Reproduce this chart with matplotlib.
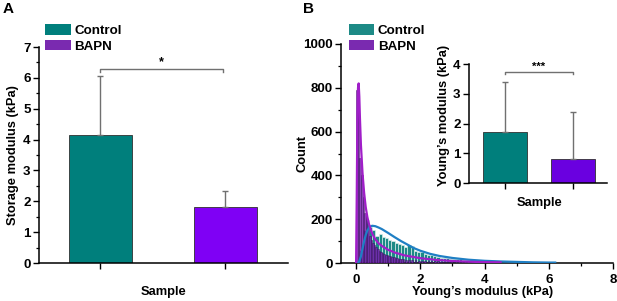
import matplotlib
matplotlib.use("Agg")
import matplotlib.pyplot as plt
from matplotlib.patches import Patch
from matplotlib.ticker import MultipleLocator
import numpy as np

plt.rcParams['font.family'] = ['Liberation Sans', 'DejaVu Sans']
plt.rcParams['font.weight'] = 'bold'
plt.rcParams['axes.labelweight'] = 'bold'

# ---------------- data ----------------
groups = ["Control", "BAPN"]
storage_mean = [4.15, 1.80]
storage_err = [1.92, 0.52]

young_mean = [1.70, 0.82]
young_err = [1.68, 1.58]

# histogram (Control): bin width 0.1 kPa, bin centres
ctrl_centers = [0.05, 0.15, 0.25, 0.35, 0.45, 0.55, 0.65, 0.75, 0.85, 0.95,
                1.05, 1.15, 1.25, 1.35, 1.45, 1.55, 1.65, 1.75, 1.85, 1.95,
                2.05, 2.15, 2.25, 2.35, 2.45, 2.55, 2.65, 2.75, 2.85, 2.95,
                3.05, 3.15, 3.25, 3.35, 3.45, 3.55, 3.65, 3.75, 3.85, 3.95,
                4.05, 4.15, 4.25, 4.35, 4.45, 4.55, 4.65, 4.75, 4.85, 4.95,
                5.05, 5.15, 5.25, 5.35, 5.45, 5.55, 5.65, 5.75, 5.85, 5.95,
                6.05, 6.15]
ctrl_counts = [10, 60, 150, 195, 165, 150, 125, 132, 120, 112,
               106, 100, 92, 86, 80, 72, 80, 76, 56, 50,
               48, 42, 38, 35, 31, 28, 25, 24, 22, 20,
               18, 17, 16, 14, 12, 11, 10, 9, 8, 8,
               7, 6, 6, 5, 5, 4, 4, 4, 3, 3,
               2, 2, 2, 2, 2, 1, 1, 1, 1, 1,
               1, 1]

# histogram (BAPN): bin width 0.05 kPa, bin centres
bapn_centers = [0.025, 0.075, 0.125, 0.175, 0.225, 0.275, 0.325, 0.375, 0.425, 0.475,
                0.525, 0.575, 0.625, 0.675, 0.725, 0.775, 0.825, 0.875, 0.925, 0.975,
                1.025, 1.075, 1.125, 1.175, 1.225, 1.275, 1.325, 1.375, 1.425, 1.475,
                1.55, 1.65, 1.75, 1.85, 1.95, 2.05, 2.15, 2.25, 2.35, 2.45,
                2.55, 2.65, 2.75, 2.85, 2.95]
bapn_counts = [790, 820, 480, 400, 300, 230, 215, 160, 125, 105,
               92, 82, 72, 64, 57, 51, 46, 42, 38, 35,
               32, 30, 28, 26, 24, 22, 20, 19, 18, 17,
               15, 14, 13, 12, 11, 10, 9, 9, 8, 7,
               7, 6, 6, 5, 5]

# fitted curves
ctrl_fit_x = [0.05, 0.1, 0.15, 0.2, 0.25, 0.3, 0.35, 0.4, 0.45, 0.5, 0.6, 0.7, 0.8, 0.9,
              1.0, 1.2, 1.4, 1.6, 1.8, 2.0, 2.3, 2.6, 3.0, 3.5, 4.0, 4.5, 5.0, 5.5, 6.0, 6.2]
ctrl_fit_y = [0, 8, 30, 65, 100, 128, 148, 160, 167, 170, 168, 162, 155, 146,
              137, 118, 100, 84, 68, 56, 42, 32, 23, 15, 10, 7, 5, 3, 2, 2]
bapn_fit_x = [0.0, 0.02, 0.04, 0.06, 0.08, 0.1, 0.12, 0.15, 0.2, 0.25, 0.3, 0.35, 0.4,
              0.5, 0.6, 0.7, 0.8, 1.0, 1.2, 1.5, 2.0, 2.5, 3.0, 3.5, 4.0, 4.5]
bapn_fit_y = [0, 300, 650, 800, 820, 760, 660, 540, 410, 320, 255, 210, 178,
              135, 108, 90, 78, 60, 48, 35, 22, 14, 9, 6, 4, 3]

# ---------------- figure ----------------
W, H = 617, 301
fig = plt.figure(figsize=(W / 100, H / 100), dpi=100)
FS = 9.6

def px_axes(x0, y_top, x1, y_bot):
    return fig.add_axes([x0 / W, 1 - y_bot / H, (x1 - x0) / W, (y_bot - y_top) / H])

def style(ax, fs=FS, xpad=2):
    for s in ['top', 'right']:
        ax.spines[s].set_visible(False)
    for s in ['left', 'bottom']:
        ax.spines[s].set_linewidth(1.1)
    ax.tick_params(axis='both', which='major', direction='out', length=4, width=1.0,
                   labelsize=fs, pad=2)
    ax.tick_params(axis='x', which='major', pad=xpad)
    ax.tick_params(axis='both', which='minor', direction='out', length=2.5, width=0.9)
    for lab in ax.get_yticklabels() + ax.get_xticklabels():
        lab.set_fontweight('bold')

err_col = '#707070'
teal = '#007f7c'
violet_a = '#7f00f5'

# ---- Panel A ----
axA = px_axes(39, 47, 288, 263)
xA = [1, 2]
axA.bar(xA, storage_mean, width=0.5, color=[teal, violet_a], edgecolor='#303030', linewidth=0.6,
        yerr=[[0, 0], storage_err], error_kw=dict(ecolor=err_col, elinewidth=1.0, capsize=2.5,
                                                  capthick=1.0), zorder=2)
axA.set_xlim(0.51, 2.5)
axA.set_ylim(0, 7)
axA.set_xticks(xA)
axA.set_xticklabels(['', ''])
axA.yaxis.set_major_locator(MultipleLocator(1))
axA.yaxis.set_minor_locator(MultipleLocator(0.5))
axA.set_ylabel('Storage modulus (kPa)', fontsize=9.3)
axA.set_xlabel('Sample', fontsize=9.3)
axA.yaxis.set_label_coords(-0.08, 0.5)
axA.xaxis.set_label_coords(0.5, -0.105)
style(axA)
# significance bracket
yb = 6.28
axA.plot([1, 1, 1.98, 1.98], [yb - 0.08, yb, yb, yb - 0.08], color=err_col, lw=1.0)
axA.text(1.49, yb + 0.05, '*', ha='center', va='bottom', fontsize=9)
legA = axA.legend(handles=[Patch(facecolor=teal, edgecolor='none', label='Control'),
                           Patch(facecolor='#7a2ab0', edgecolor='none', label='BAPN')],
                  loc='upper left', bbox_to_anchor=(45 / W, 1 - 24 / H), bbox_transform=fig.transFigure,
                  frameon=False, fontsize=FS, handlelength=1.95, handleheight=0.85,
                  handletextpad=0.25, labelspacing=0.2, borderpad=0, borderaxespad=0)
for t in legA.get_texts():
    t.set_fontweight('bold')

# ---- Panel B ----
axB = px_axes(341, 44, 613, 263)
axB.bar(ctrl_centers, ctrl_counts, width=0.1, color='#1d8a86', edgecolor='#d8ecea',
        linewidth=0.5, zorder=2)
axB.bar(bapn_centers, bapn_counts, width=0.05, color='#7a1fb0', edgecolor='#3a1060',
        linewidth=0.4, alpha=0.85, zorder=3)
axB.plot(ctrl_fit_x, ctrl_fit_y, color='#1f7fc4', lw=1.6, zorder=4)
axB.plot(bapn_fit_x, bapn_fit_y, color='#a01ec8', lw=1.6, zorder=4)
axB.set_xlim(-0.47, 8)
axB.set_ylim(0, 1000)
axB.xaxis.set_major_locator(MultipleLocator(2))
axB.xaxis.set_minor_locator(MultipleLocator(1))
axB.yaxis.set_major_locator(MultipleLocator(200))
axB.yaxis.set_minor_locator(MultipleLocator(100))
axB.set_ylabel('Count', fontsize=9.3)
axB.set_xlabel('Young\u2019s modulus (kPa)', fontsize=9.3)
axB.yaxis.set_label_coords(-0.118, 0.5)
axB.xaxis.set_label_coords(0.522, -0.105)
style(axB, xpad=4)
legB = axB.legend(handles=[Patch(facecolor='#1d8a86', edgecolor='none', label='Control'),
                           Patch(facecolor='#7a2ab0', edgecolor='none', label='BAPN')],
                  loc='upper left', bbox_to_anchor=(349 / W, 1 - 24 / H), bbox_transform=fig.transFigure,
                  frameon=False, fontsize=FS, handlelength=1.9, handleheight=0.85,
                  handletextpad=0.25, labelspacing=0.2, borderpad=0, borderaxespad=0)
for t in legB.get_texts():
    t.set_fontweight('bold')

# ---- Inset ----
axI = px_axes(469, 64, 607, 183)
axI.bar(xA, young_mean, width=0.66, color=[teal, '#6a00e0'], edgecolor='#303030', linewidth=0.6,
        yerr=[[0, 0], young_err], error_kw=dict(ecolor=err_col, elinewidth=1.0, capsize=2.5,
                                                capthick=1.0), zorder=2)
axI.set_xlim(0.47, 2.5)
axI.set_ylim(0, 4)
axI.set_xticks(xA)
axI.set_xticklabels(['', ''])
axI.yaxis.set_major_locator(MultipleLocator(1))
axI.set_ylabel('Young\u2019s modulus (kPa)', fontsize=9.3)
axI.set_xlabel('Sample', fontsize=9.3)
axI.yaxis.set_label_coords(-0.14, 0.57)
axI.xaxis.set_label_coords(0.51, -0.12)
style(axI)
yb = 3.73
axI.plot([1, 1, 2, 2], [yb - 0.06, yb, yb, yb - 0.06], color=err_col, lw=1.0)
axI.text(1.5, yb + 0.02, '***', ha='center', va='bottom', fontsize=8)

# panel letters
fig.text(3 / W, 1 - 2 / H, 'A', fontsize=11, fontweight='bold', va='top', ha='left')
fig.text(303 / W, 1 - 2 / H, 'B', fontsize=11, fontweight='bold', va='top', ha='left')

fig.savefig('out.png', dpi=100)
